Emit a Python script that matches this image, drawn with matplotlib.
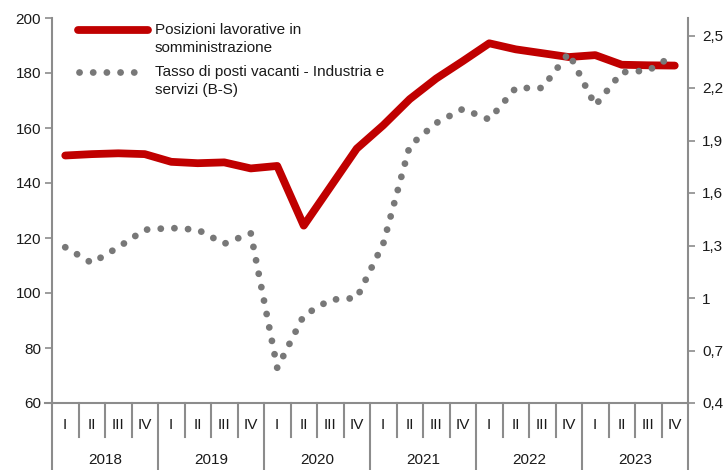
import matplotlib as mpl
mpl.use('Agg')
import matplotlib.pyplot as plt
from matplotlib.ticker import FuncFormatter
from matplotlib.transforms import blended_transform_factory

plt.rcParams['font.family'] = ['Liberation Sans Narrow', 'Liberation Sans', 'DejaVu Sans']
plt.rcParams['font.size'] = 11

# ---- data ----
years = ['2018', '2019', '2020', '2021', '2022', '2023']
quarters = ['I', 'II', 'III', 'IV'] * len(years)

posizioni = [150, 150.5, 150.8, 150.5, 147.7, 147.2, 147.5, 145.3,
             146.2, 124.5, 138.5, 152.5, 161, 170.5, 178, 184.3,
             190.8, 188.6, 187.2, 185.8, 186.5, 183, 182.8, 182.7]
tasso = [1.29, 1.20, 1.29, 1.39, 1.40, 1.39, 1.31, 1.37,
         0.60, 0.90, 0.99, 1.00, 1.31, 1.87, 2.00, 2.08,
         2.02, 2.20, 2.20, 2.40, 2.10, 2.29, 2.30, 2.39]

lab_red = 'Posizioni lavorative in\nsomministrazione'
lab_gray = 'Tasso di posti vacanti - Industria e\nservizi (B-S)'

red = '#C00000'
gray = '#787878'
axc = '#8C8C8C'
dots = (0, (0.01, 2.0))

x = list(range(len(posizioni)))

fig = plt.figure(figsize=(7.28, 4.70), dpi=100)
ax = fig.add_axes([52/728, 67/470, 636/728, 385/470])
ax2 = ax.twinx()

ax.plot(x, posizioni, color=red, lw=5.6, solid_capstyle='round', solid_joinstyle='round')
ax2.plot(x, tasso, color=gray, lw=4.9, linestyle=dots, dash_capstyle='round')

ax.set_xlim(-0.5, len(x) - 0.5)
ax.set_ylim(60, 200)
ax.set_yticks(range(60, 201, 20))
ax2.set_ylim(0.4, 2.6)
ax2.set_yticks([0.4, 0.7, 1.0, 1.3, 1.6, 1.9, 2.2, 2.5])
ax2.yaxis.set_major_formatter(FuncFormatter(lambda v, p: ('%g' % round(v, 1)).replace('.', ',')))

for a in (ax, ax2):
    a.set_xticks([])
    a.spines['top'].set_visible(False)
    for s in ('left', 'right', 'bottom'):
        a.spines[s].set_color(axc)
        a.spines[s].set_linewidth(1.5)
    a.tick_params(axis='y', colors=axc, width=1.2, length=5, labelcolor='#1a1a1a', labelsize=11)
ax.spines['right'].set_visible(False)
ax2.spines['left'].set_visible(False)
ax2.spines['bottom'].set_visible(False)
ax.tick_params(axis='y', pad=3)
ax2.tick_params(axis='y', pad=5)

# two-level category axis
tr = blended_transform_factory(ax.transData, ax.transAxes)
for i in range(len(x) + 1):
    xb = i - 0.5
    low = -0.175 if i % 4 == 0 else -0.088
    ax.plot([xb, xb], [0, low], transform=tr, color=axc, lw=1.5, clip_on=False)
for i, q in enumerate(quarters):
    ax.text(i, -0.057, q, transform=tr, ha='center', va='center', fontsize=11, color='#1a1a1a')
for j, yr in enumerate(years):
    ax.text(4*j + 1.5, -0.148, yr, transform=tr, ha='center', va='center', fontsize=11, color='#1a1a1a')
ax.plot([-0.75, -0.5], [0, 0], transform=tr, color=axc, lw=1.5, clip_on=False)

# legend, drawn by hand so the keys sit on the first text line
ax2.plot([0.041, 0.151], [0.969, 0.969], transform=ax2.transAxes, color=red, lw=5.6,
         solid_capstyle='round', clip_on=False, zorder=5)
ax2.plot([0.043, 0.148], [0.860, 0.860], transform=ax2.transAxes, color=gray, lw=4.9,
         linestyle=dots, dash_capstyle='round', clip_on=False, zorder=5)
ax2.text(0.162, 0.969 + 0.019, lab_red, transform=ax2.transAxes, ha='left', va='top',
         fontsize=11, linespacing=1.38, color='#1a1a1a')
ax2.text(0.162, 0.860 + 0.019, lab_gray, transform=ax2.transAxes, ha='left', va='top',
         fontsize=11, linespacing=1.38, color='#1a1a1a')

fig.savefig('out.png', dpi=100)
